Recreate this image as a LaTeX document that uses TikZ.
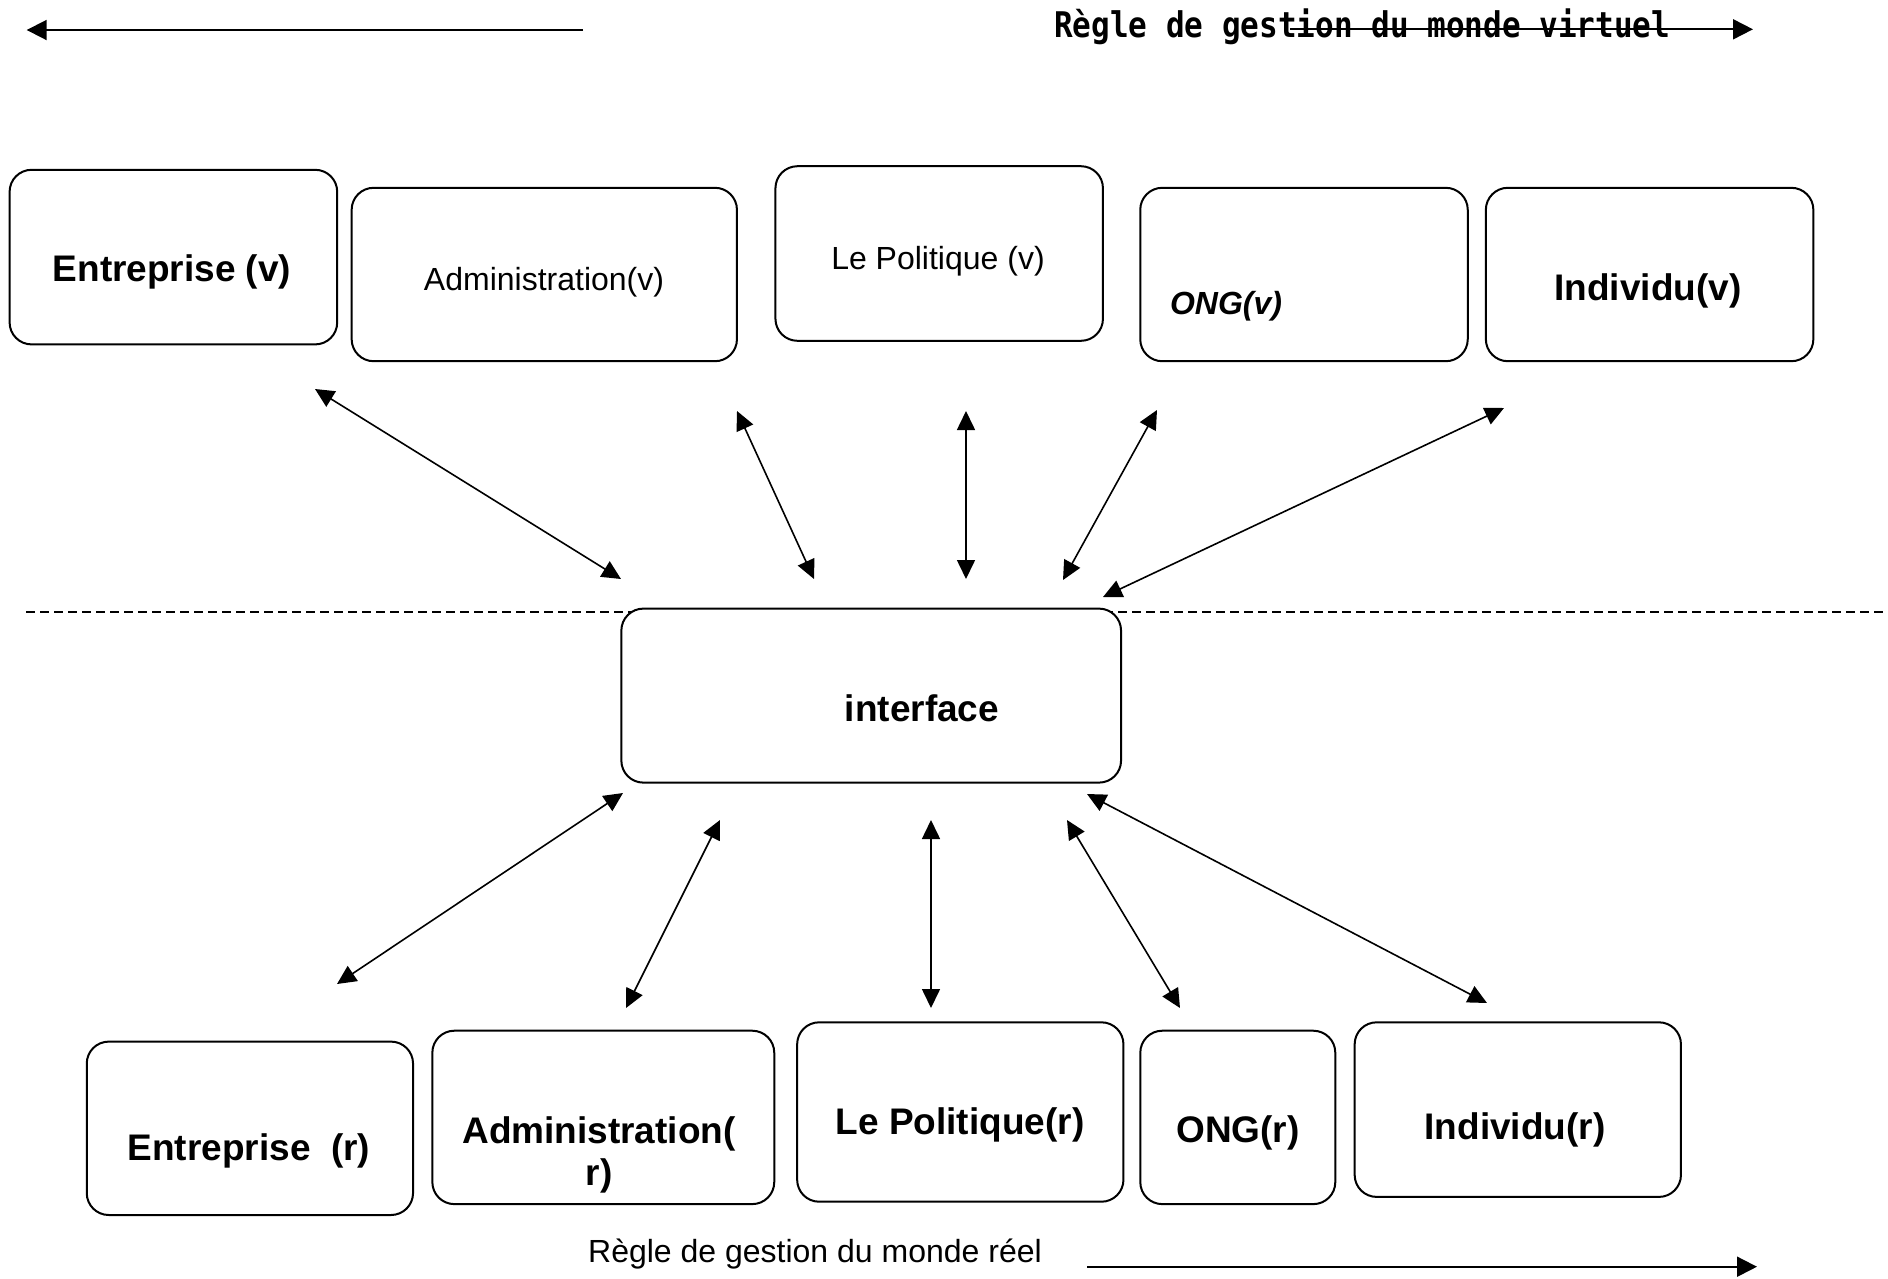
\documentclass[tikz,border=0pt]{standalone}
\usepackage{fontspec}
\setmainfont{Liberation Sans}
\newfontfamily\monobold{DejaVu Sans Mono}
\usetikzlibrary{arrows.meta}
\newcommand\fbigb{\fontsize{37}{42}\selectfont\bfseries}
\newcommand\freg{\fontsize{32}{38}\selectfont}
\begin{document}
\begin{tikzpicture}[x=1pt,y=-1pt,
  box/.style={draw, line width=2pt, rounded corners=22pt, fill=white, inner sep=0pt},
  lbl/.style={inner sep=0pt},
  dbl/.style={{Triangle[length=19pt,width=18pt]}-{Triangle[length=19pt,width=18pt]}, line width=1.6pt},
  longarrow/.style={-{Triangle[length=20pt,width=20pt]}, line width=1.9pt},
  sep/.style={dashed, dash pattern=on 9pt off 5pt, line width=1.5pt}
]
\useasboundingbox[fill=white] (0,0) rectangle (1888,1278);

% header
\node[lbl, anchor=base west, font=\monobold\bfseries\fontsize{31}{34}\selectfont] (title) at (1054,37.8) {\scalebox{1}[1.14]{Règle de gestion du monde virtuel}};
\coordinate (tls) at (583,30);
\coordinate (tle) at (26.7,30);
\draw[longarrow] (tls) -- (tle);
\coordinate (trs) at (1290,29.3);
\coordinate (tre) at (1753,29.3);
\draw[longarrow] (trs) -- (tre);

% separator
\coordinate (sepl) at (26,612);
\coordinate (sepr) at (1888,612);
\draw[sep] (sepl) -- (sepr);

% top boxes
\node[box, minimum width=327.6pt, minimum height=174.6pt] (ev) at (173.4,257.1) {};
\node[box, minimum width=385.3pt, minimum height=173.4pt] (av) at (544.3,274.5) {};
\node[box, minimum width=327.5pt, minimum height=174.6pt] (pv) at (939.2,253.5) {};
\node[box, minimum width=327.5pt, minimum height=173.4pt] (ov) at (1304,274.5) {};
\node[box, minimum width=327.5pt, minimum height=173.4pt] (iv) at (1649.6,274.5) {};

\node[lbl, font=\fbigb] (evt) at (172,272) {Entreprise (v)};
\node[lbl, font=\freg] (avt) at (544,282.5) {Administration(v)};
\node[lbl, font=\freg] (pvt) at (938,261) {Le Politique (v)};
\node[lbl, font=\freg\bfseries\itshape] (ovt) at (1226,306) {ONG(v)};
\node[lbl, font=\fbigb] (ivt) at (1648,290.5) {Individu(v)};

% interface
\node[box, minimum width=499.7pt, minimum height=174pt] (intf) at (871.2,695.6) {};
\node[lbl, font=\fbigb] (intft) at (922,708) {interface};

% bottom boxes
\node[box, minimum width=326.3pt, minimum height=173.4pt] (er) at (249.9,1128.3) {};
\node[box, minimum width=341.9pt, minimum height=173.4pt] (ar) at (603.3,1117.4) {};
\node[box, minimum width=326.3pt, minimum height=179.4pt] (pr) at (960.3,1112) {};
\node[box, minimum width=195pt, minimum height=173.4pt] (or) at (1237.8,1117.4) {};
\node[box, minimum width=326.3pt, minimum height=174.6pt] (ir) at (1517.8,1109.6) {};

\node[lbl, font=\fbigb] (ert) at (249,1151) {Entreprise\ \ (r)};
\node[lbl, font=\fbigb, align=center] (art) at (599,1154.5) {Administration(\\r)};
\node[lbl, font=\fbigb] (prt) at (960,1124.5) {Le Politique(r)};
\node[lbl, font=\fbigb] (ort) at (1238,1132.5) {ONG(r)};
\node[lbl, font=\fbigb] (irt) at (1515,1129.5) {Individu(r)};

% footer
\node[lbl, font=\freg] (foot) at (815,1254.5) {Règle de gestion du monde réel};
\coordinate (brs) at (1087,1266.7);
\coordinate (bre) at (1757,1266.7);
\draw[longarrow] (brs) -- (bre);

% top connectors
\coordinate (a1s) at (315,389);   \coordinate (a1e) at (621,579);
\coordinate (a2s) at (737,411);   \coordinate (a2e) at (814,579);
\coordinate (a3s) at (966,411);   \coordinate (a3e) at (966,579);
\coordinate (a4s) at (1157,410);  \coordinate (a4e) at (1063,580);
\coordinate (a5s) at (1504,408);  \coordinate (a5e) at (1103,597);
\draw[dbl] (a1s) -- (a1e);
\draw[dbl] (a2s) -- (a2e);
\draw[dbl] (a3s) -- (a3e);
\draw[dbl] (a4s) -- (a4e);
\draw[dbl] (a5s) -- (a5e);

% bottom connectors
\coordinate (b1s) at (623,793);   \coordinate (b1e) at (337,984);
\coordinate (b2s) at (720,820);   \coordinate (b2e) at (626,1008);
\coordinate (b3s) at (931,820);   \coordinate (b3e) at (931,1008);
\coordinate (b4s) at (1067,820);  \coordinate (b4e) at (1180,1008);
\coordinate (b5s) at (1087,794);  \coordinate (b5e) at (1487,1003);
\draw[dbl] (b1s) -- (b1e);
\draw[dbl] (b2s) -- (b2e);
\draw[dbl] (b3s) -- (b3e);
\draw[dbl] (b4s) -- (b4e);
\draw[dbl] (b5s) -- (b5e);
\end{tikzpicture}
\end{document}
